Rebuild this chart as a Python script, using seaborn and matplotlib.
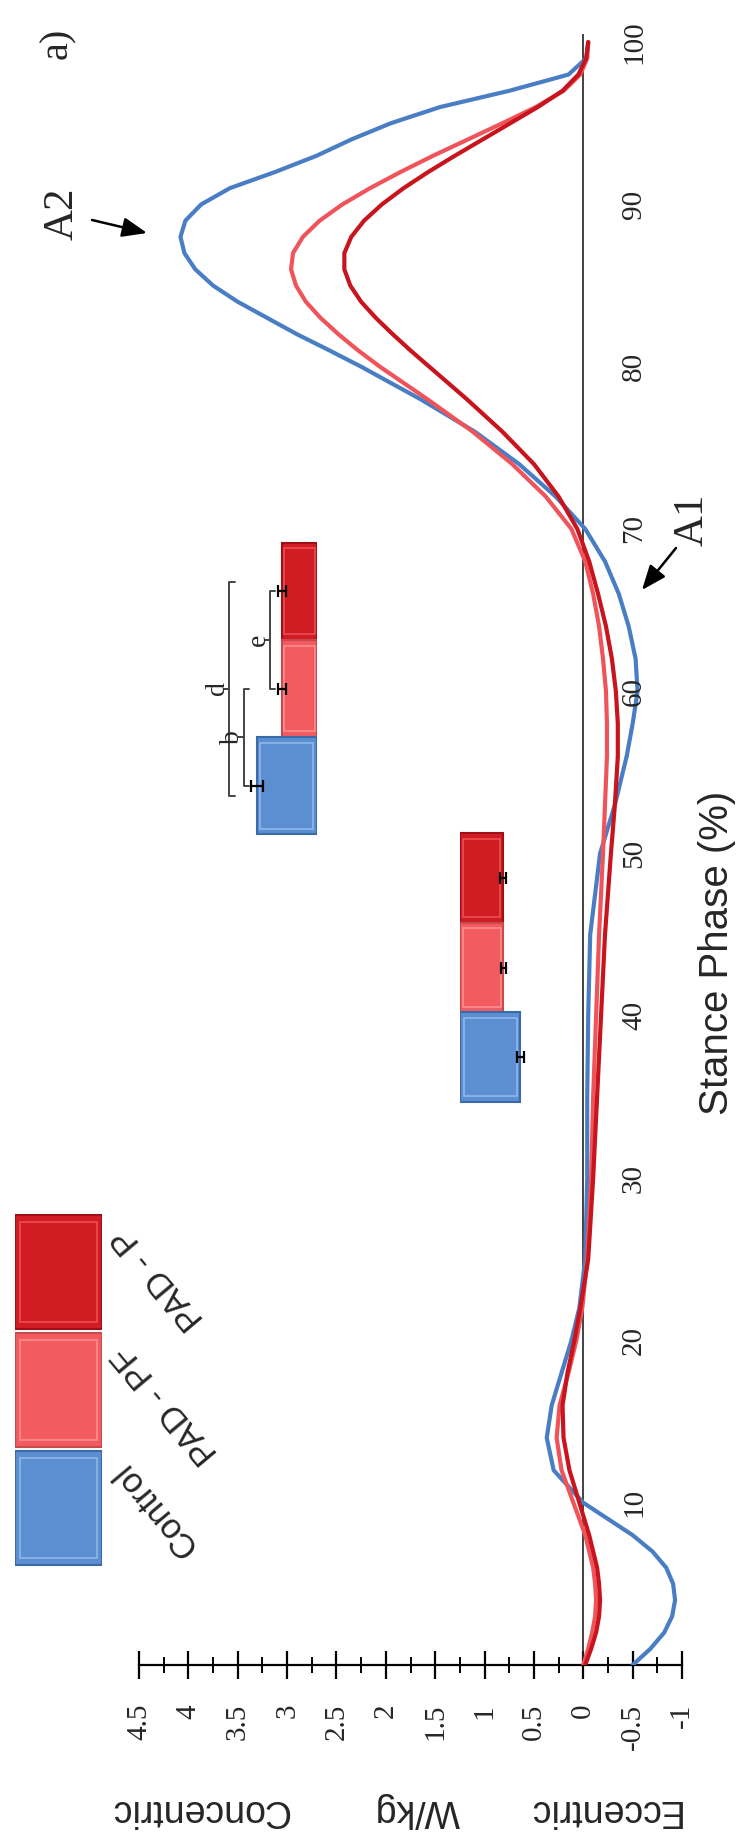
import matplotlib
matplotlib.use("Agg")
import matplotlib.pyplot as plt
import matplotlib.transforms as mtransforms
from matplotlib.patches import Rectangle
from matplotlib.ticker import MultipleLocator
import seaborn as sns
import pandas as pd
import numpy as np

# ---- data (stance phase % vs power W/kg) ----
stance = [0, 1, 2, 3, 4, 5, 6, 7, 8, 9, 10, 12, 14, 16, 18, 20, 22, 25, 30, 35, 40, 45, 50,
          53, 56, 58, 60, 62, 64, 66, 68, 70, 72, 74, 76, 78, 79, 80, 81, 82, 83, 84, 85, 86,
          87, 88, 89, 90, 91, 92, 93, 94, 95, 96, 97, 98, 99, 100]
control = [-0.50, -0.68, -0.82, -0.90, -0.93, -0.91, -0.84, -0.70, -0.50, -0.25, 0.00, 0.30, 0.37,
           0.32, 0.22, 0.12, 0.04, -0.02, -0.04, -0.04, -0.05, -0.07, -0.17, -0.32, -0.44, -0.50,
           -0.55, -0.53, -0.46, -0.36, -0.22, -0.02, 0.28, 0.65, 1.10, 1.65, 1.95, 2.25, 2.57, 2.90,
           3.20, 3.50, 3.75, 3.93, 4.04, 4.08, 4.03, 3.87, 3.58, 3.12, 2.70, 2.35, 1.95, 1.45, 0.75,
           0.15, -0.03, -0.05]
pad_pf = [0.00, -0.05, -0.09, -0.12, -0.13, -0.12, -0.10, -0.06, -0.02, 0.04, 0.10, 0.22, 0.27,
          0.24, 0.15, 0.07, 0.01, -0.04, -0.08, -0.10, -0.13, -0.16, -0.20, -0.22, -0.24, -0.24,
          -0.23, -0.20, -0.16, -0.10, -0.02, 0.12, 0.38, 0.72, 1.12, 1.58, 1.82, 2.06, 2.28, 2.48,
          2.66, 2.81, 2.91, 2.96, 2.94, 2.84, 2.67, 2.44, 2.16, 1.85, 1.52, 1.17, 0.82, 0.48, 0.20,
          0.03, -0.04, -0.05]
pad_p = [-0.02, -0.08, -0.13, -0.16, -0.17, -0.16, -0.14, -0.10, -0.06, -0.01, 0.04, 0.14, 0.20,
         0.21, 0.16, 0.09, 0.03, -0.05, -0.10, -0.14, -0.18, -0.22, -0.28, -0.32, -0.35, -0.35,
         -0.33, -0.29, -0.23, -0.15, -0.06, 0.06, 0.25, 0.50, 0.82, 1.18, 1.37, 1.56, 1.75, 1.93,
         2.10, 2.25, 2.36, 2.42, 2.42, 2.35, 2.22, 2.04, 1.82, 1.57, 1.30, 1.02, 0.74, 0.46, 0.21,
         0.05, -0.03, -0.05]

groups = ["Control", "PAD - PF", "PAD - P"]
line_colors = {"Control": "#4a7ec4", "PAD - PF": "#f0545b", "PAD - P": "#c8141d"}
box_colors = {"Control": "#5b8fd2", "PAD - PF": "#f25c60", "PAD - P": "#d21c24"}
edge_colors = {"Control": "#3a6aa8", "PAD - PF": "#c94a4e", "PAD - P": "#9c1016"}
light_colors = {"Control": "#9cc2ef", "PAD - PF": "#ff9a9c", "PAD - P": "#f05a60"}

# inset bar charts (peaks A1 / A2, in bar units), order: PAD - P, PAD - PF, Control
bar_order = ["PAD - P", "PAD - PF", "Control"]
a1_vals = [0.61, 0.62, 0.86]
a1_err = [0.04, 0.04, 0.05]
a2_vals = [0.41, 0.41, 0.71]
a2_err = [0.05, 0.05, 0.07]

w_ticks = np.arange(-1, 4.51, 0.5)
stance_ticks = [10, 20, 30, 40, 50, 60, 70, 80, 90, 100]

SANS = ["Liberation Sans", "DejaVu Sans"]
SERIF = ["Liberation Serif", "DejaVu Serif"]

sns.set_style("white")
plt.rcParams["font.family"] = SANS

W, H = 740, 1837
fig = plt.figure(figsize=(W / 100, H / 100), dpi=100)

def fx(px):
    return px / W

def fy(py):
    return 1 - py / H

ax = fig.add_axes([fx(139), fy(1665), fx(682) - fx(139), fy(34) - fy(1665)])

df = pd.DataFrame({
    "Stance": stance * 3,
    "Power": control + pad_pf + pad_p,
    "Group": ["Control"] * len(stance) + ["PAD - PF"] * len(stance) + ["PAD - P"] * len(stance),
})
sns.lineplot(data=df, x="Power", y="Stance", hue="Group", hue_order=groups, orient="y",
             palette=line_colors, linewidth=3, legend=False, errorbar=None, ax=ax, zorder=3)

ax.axvline(0, color="#222222", lw=1.2, zorder=2)
ax.set_xlim(4.5, -1)
ax.set_ylim(0, 100.5)
for s in ["top", "right", "left"]:
    ax.spines[s].set_visible(False)
ax.spines["bottom"].set_linewidth(1.6)
ax.spines["bottom"].set_color("black")
ax.set_yticks([])
ax.set_xlabel("")
ax.set_ylabel("")
ax.set_xticks(w_ticks)
ax.set_xticklabels([f"{v:g}" for v in w_ticks], rotation=90, fontfamily=SERIF, fontsize=21)
ax.xaxis.set_minor_locator(MultipleLocator(0.25))
ax.tick_params(axis="x", which="both", bottom=True, color="black")
ax.tick_params(axis="x", which="major", direction="inout", length=20, width=1.6, pad=18)
ax.tick_params(axis="x", which="minor", direction="inout", length=11, width=1.4)

# stance phase labels next to the zero line
tr = mtransforms.blended_transform_factory(ax.transAxes, ax.transData)
for s in stance_ticks:
    ax.text((634 - 139) / 543, s, str(s), transform=tr, rotation=90, ha="center", va="center",
            fontsize=21, fontfamily=SERIF)

fig.text(fx(717), fy(953), "Stance Phase (%)", rotation=90, ha="center", va="center", fontsize=29)
fig.text(fx(200), fy(1810), "Concentric", rotation=180, ha="center", va="center", fontsize=27)
fig.text(fx(417), fy(1810), "W/kg", rotation=180, ha="center", va="center", fontsize=27)
fig.text(fx(603), fy(1810), "Eccentric", rotation=180, ha="center", va="center", fontsize=27)

fig.text(fx(58), fy(43), "a)", rotation=90, ha="center", va="center", fontsize=29, fontfamily=SERIF)
fig.text(fx(62), fy(214), "A2", rotation=90, ha="center", va="center", fontsize=31, fontfamily=SERIF)
fig.text(fx(692), fy(520), "A1", rotation=90, ha="center", va="center", fontsize=31, fontfamily=SERIF)
arrow = dict(arrowstyle="-|>,head_length=0.5,head_width=0.2", color="black", lw=1.8,
             mutation_scale=30, shrinkA=0, shrinkB=0)
ax.annotate("", xy=(fx(147), fy(233)), xytext=(fx(92), fy(220)),
            xycoords="figure fraction", textcoords="figure fraction", arrowprops=arrow)
ax.annotate("", xy=(fx(642), fy(590)), xytext=(fx(676), fy(548)),
            xycoords="figure fraction", textcoords="figure fraction", arrowprops=arrow)


def bevel(iax, order):
    # light inner edge and dark outline, like the 3-D boxes of the original
    for p, g in zip(iax.patches, order):
        p.set_edgecolor(edge_colors[g])
        p.set_linewidth(1.5)
        x0, y0 = p.get_x(), p.get_y()
        w, h = p.get_width(), p.get_height()
        iax.add_patch(Rectangle((x0 + w * 0.06, y0 + h * 0.06), w * 0.88, h * 0.88, fill=False,
                                edgecolor=light_colors[g], lw=1.2, alpha=0.8))


def bar_inset(rect, vals, errs, xmax, flip):
    iax = fig.add_axes(rect)
    sns.barplot(x=vals, y=bar_order, hue=bar_order, palette=box_colors, order=bar_order,
                width=1.0, orient="h", legend=False, ax=iax, errorbar=None, saturation=1)
    bevel(iax, bar_order)
    iax.errorbar(vals, range(len(vals)), xerr=errs, fmt="none", ecolor="black",
                 elinewidth=1.6, capsize=4, capthick=1.6)
    iax.set_xlim((xmax, 0) if flip else (0, xmax))
    iax.axis("off")
    return iax


bar_inset([fx(460), fy(1115), fx(70), fy(820) - fy(1115)], a1_vals, a1_err, 1.0, False)
a2 = bar_inset([fx(215), fy(849), fx(102), fy(528) - fy(849)], a2_vals, a2_err, 1.2, True)

# significance brackets on the A2 inset
def bracket(iax, x, y1, y2, label):
    d = 0.06
    ym = (y1 + y2) / 2
    iax.plot([x - d, x, x, x + d, x, x, x - d], [y1, y1, ym, ym, ym, y2, y2],
             color="#444444", lw=1.4, clip_on=False)
    iax.text(x + 0.14, ym, label, rotation=90, ha="center", va="center",
             fontsize=20, fontfamily=SERIF, clip_on=False)

bracket(a2, 0.86, 2.0, 1.0, "b")
bracket(a2, 0.55, 1.0, 0.0, "e")
bracket(a2, 1.03, 2.1, -0.1, "d")

# legend drawn as a small bar chart
leg = fig.add_axes([fx(15), fy(1567), fx(87), fy(1213) - fy(1567)])
sns.barplot(x=[1, 1, 1], y=bar_order, hue=bar_order, palette=box_colors, order=bar_order,
            width=0.97, orient="h", legend=False, ax=leg, errorbar=None, saturation=1)
bevel(leg, bar_order)
leg.set_xlim(0, 1)
leg.axis("off")
for i, g in enumerate(bar_order):
    leg.text(1.2, i - 0.35, g, rotation=130, rotation_mode="anchor", ha="right", va="center",
             fontsize=25, clip_on=False)

fig.savefig("out.png", dpi=100)
